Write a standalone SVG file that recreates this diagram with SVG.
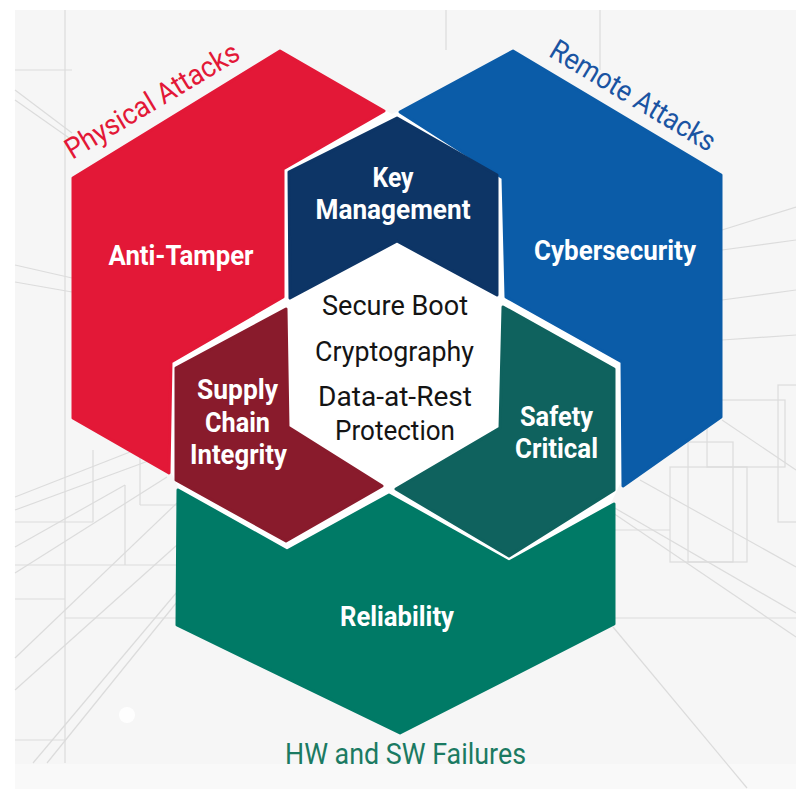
<svg xmlns="http://www.w3.org/2000/svg" width="796" height="789" viewBox="0 0 796 789">
  <style>
    .bg-line { fill: none; stroke: #dcdcdc; stroke-width: 1.2; }
    .piece { stroke-width: 3; stroke-linejoin: round; }
    .lbl { font-family: Roboto, "Liberation Sans", sans-serif; font-weight: 700; font-size: 28px; fill: #ffffff; text-anchor: middle; }
    .lbl-sm { font-size: 27px; }
    .core { font-family: Roboto, "Liberation Sans", sans-serif; font-weight: 400; font-size: 28px; fill: #141414; text-anchor: middle; }
    .cap { font-family: Roboto, "Liberation Sans", sans-serif; font-weight: 400; font-size: 29px; text-anchor: middle; }
  </style>

  <!-- page and backdrop -->
  <rect x="0" y="0" width="796" height="789" fill="#ffffff"/>
  <rect x="15" y="10" width="781" height="754" fill="#f6f6f6"/>
  <rect x="15" y="764" width="781" height="25" fill="#f9f9f9"/>

  <!-- faint architectural line work -->
  <g id="backdrop-lines" class="bg-line">
    <line x1="65" y1="10" x2="65" y2="763"/>
    <line x1="93" y1="450" x2="93" y2="522"/>
    <line x1="125" y1="485" x2="125" y2="565"/>
    <line x1="140" y1="455" x2="140" y2="505"/>
    <line x1="15" y1="522" x2="93" y2="522"/>
    <line x1="15" y1="565" x2="177" y2="565"/>
    <line x1="15" y1="599" x2="65" y2="599"/>
    <line x1="65" y1="618" x2="177" y2="618"/>
    <line x1="15" y1="740" x2="65" y2="740"/>
    <line x1="140" y1="505" x2="177" y2="505"/>
    <line x1="15" y1="70" x2="72" y2="70"/>
    <line x1="15" y1="90" x2="72" y2="133"/>
    <line x1="15" y1="100" x2="72" y2="140"/>
    <line x1="15" y1="265" x2="72" y2="278"/>
    <line x1="15" y1="282" x2="72" y2="292"/>
    <line x1="15" y1="497" x2="130" y2="452"/>
    <line x1="15" y1="510" x2="170" y2="453"/>
    <line x1="15" y1="547" x2="125" y2="485"/>
    <line x1="15" y1="573" x2="167" y2="477"/>
    <line x1="15" y1="658" x2="177" y2="503"/>
    <line x1="15" y1="690" x2="177" y2="545"/>
    <line x1="33" y1="763" x2="177" y2="592"/>
    <line x1="47" y1="763" x2="177" y2="602"/>
    <line x1="446" y1="10" x2="446" y2="50"/>
    <line x1="600" y1="10" x2="600" y2="70"/>
    <line x1="722" y1="230" x2="796" y2="207"/>
    <line x1="722" y1="250" x2="796" y2="240"/>
    <line x1="722" y1="300" x2="796" y2="290"/>
    <line x1="722" y1="340" x2="796" y2="335"/>
    <rect x="670" y="467" width="77" height="95"/>
    <rect x="688" y="442" width="45" height="120"/>
    <rect x="707" y="400" width="78" height="67"/>
    <rect x="778" y="385" width="30" height="137"/>
    <line x1="614" y1="618" x2="796" y2="618"/>
    <line x1="614" y1="530" x2="670" y2="530"/>
    <line x1="613" y1="507" x2="796" y2="613"/>
    <line x1="613" y1="513" x2="796" y2="637"/>
    <line x1="640" y1="480" x2="796" y2="567"/>
    <line x1="722" y1="420" x2="796" y2="470"/>
    <line x1="613" y1="627" x2="747" y2="788"/>
  </g>
  <circle cx="127" cy="715" r="8" fill="#ffffff" opacity="0.9"/>

  <!-- white body tucked inside the outer rim, so gaps and centre stay clean -->
  <polygon points="280,56 392,114 513,56 717,177 717,415 620,484 611,503 611,622 400,729 181,622 181,493 170,470 77,415 77,181" fill="#ffffff"/>

  <g id="node-anti-tamper">
    <polygon class="piece" fill="#e31837" stroke="#e31837" points="280,51 384,111 283,169 283,297 171,362 169,473 73,418 73,178"/>
    <text class="lbl" x="181" y="265" textLength="145" lengthAdjust="spacingAndGlyphs">Anti-Tamper</text>
  </g>

  <g id="node-cybersecurity">
    <polygon class="piece" fill="#0b5ca8" stroke="#0b5ca8" points="513,51 721,175 721,417 623,486 622,362 506,297 503,178 400,112"/>
    <text class="lbl" x="615" y="260" textLength="162" lengthAdjust="spacingAndGlyphs">Cybersecurity</text>
  </g>

  <g id="node-key-management">
    <polygon class="piece" fill="#0d3566" stroke="#0d3566" points="397,118 497,175 497,295 397,241 290,298 289,172"/>
    <text class="lbl lbl-sm" x="393" y="187" textLength="41" lengthAdjust="spacingAndGlyphs">Key</text>
    <text class="lbl lbl-sm" x="393" y="219" textLength="155" lengthAdjust="spacingAndGlyphs">Management</text>
  </g>

  <g id="node-supply-chain">
    <polygon class="piece" fill="#891b2c" stroke="#891b2c" points="286,309 288,427 382,486 286,541 176,480 176,368"/>
    <text class="lbl lbl-sm" x="237.5" y="399" textLength="81" lengthAdjust="spacingAndGlyphs">Supply</text>
    <text class="lbl lbl-sm" x="237.5" y="432" textLength="65" lengthAdjust="spacingAndGlyphs">Chain</text>
    <text class="lbl lbl-sm" x="238.5" y="464" textLength="97" lengthAdjust="spacingAndGlyphs">Integrity</text>
  </g>

  <g id="node-safety-critical">
    <polygon class="piece" fill="#0f625e" stroke="#0f625e" points="503,307 614,369 614,490 509,556 396,489 500,428"/>
    <text class="lbl lbl-sm" x="556.5" y="426" textLength="73" lengthAdjust="spacingAndGlyphs">Safety</text>
    <text class="lbl lbl-sm" x="556.5" y="458" textLength="83" lengthAdjust="spacingAndGlyphs">Critical</text>
  </g>

  <g id="node-reliability">
    <polygon class="piece" fill="#007a66" stroke="#007a66" points="178,490 287,551 389,495 509,562 614,504 614,624 400,733 177,625"/>
    <text class="lbl" x="397" y="626" textLength="114" lengthAdjust="spacingAndGlyphs">Reliability</text>
  </g>

  <g id="node-core">
    <text class="core" x="395" y="315" textLength="146" lengthAdjust="spacingAndGlyphs">Secure Boot</text>
    <text class="core" x="394.5" y="361" textLength="159" lengthAdjust="spacingAndGlyphs">Cryptography</text>
    <text class="core" x="395" y="406" textLength="154" lengthAdjust="spacingAndGlyphs">Data-at-Rest</text>
    <text class="core" x="395" y="440" textLength="120" lengthAdjust="spacingAndGlyphs">Protection</text>
  </g>

  <!-- threat captions around the outside -->
  <g id="caption-physical">
    <text class="cap" fill="#e31837" transform="translate(157,109) rotate(-31)" textLength="198" lengthAdjust="spacingAndGlyphs">Physical Attacks</text>
  </g>
  <g id="caption-remote">
    <text class="cap" fill="#1a54a2" transform="translate(628,104) rotate(31)" textLength="188" lengthAdjust="spacingAndGlyphs">Remote Attacks</text>
  </g>
  <g id="caption-failures">
    <text class="cap" fill="#1b7a62" x="405.5" y="764" textLength="241" lengthAdjust="spacingAndGlyphs">HW and SW Failures</text>
  </g>

  <g id="connectors"/>
</svg>
